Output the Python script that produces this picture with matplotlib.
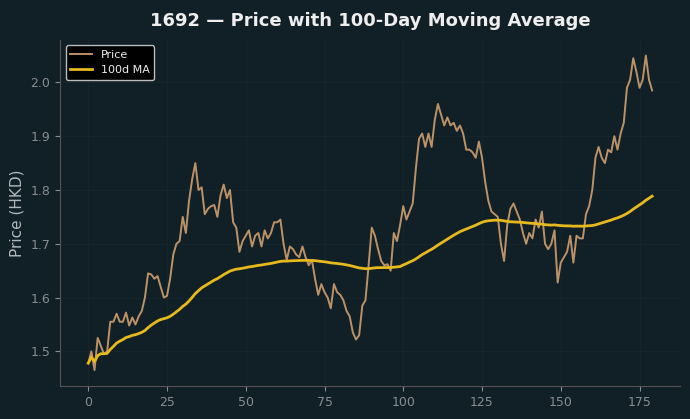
import numpy as np
import pandas as pd
import matplotlib
matplotlib.use("Agg")
import matplotlib.pyplot as plt

ticker = "1692"
ma_window = 100

# daily close, HKD
price = [
    1.478, 1.500, 1.465, 1.525, 1.510, 1.495, 1.500, 1.555, 1.555, 1.570,
    1.555, 1.555, 1.572, 1.548, 1.563, 1.550, 1.565, 1.575, 1.600, 1.645,
    1.643, 1.635, 1.640, 1.620, 1.600, 1.603, 1.635, 1.680, 1.700, 1.705,
    1.750, 1.720, 1.780, 1.820, 1.850, 1.800, 1.805, 1.755, 1.765, 1.770,
    1.772, 1.750, 1.790, 1.810, 1.785, 1.800, 1.740, 1.730, 1.685, 1.705,
    1.715, 1.725, 1.695, 1.715, 1.720, 1.695, 1.725, 1.710, 1.720, 1.740,
    1.740, 1.745, 1.700, 1.670, 1.695, 1.690, 1.680, 1.675, 1.695, 1.675,
    1.660, 1.670, 1.635, 1.605, 1.625, 1.610, 1.600, 1.580, 1.625, 1.610,
    1.605, 1.595, 1.575, 1.565, 1.535, 1.522, 1.530, 1.585, 1.595, 1.660,
    1.730, 1.715, 1.690, 1.668, 1.660, 1.662, 1.650, 1.720, 1.705, 1.735,
    1.770, 1.745, 1.760, 1.775, 1.840, 1.895, 1.905, 1.880, 1.905, 1.880,
    1.930, 1.960, 1.940, 1.920, 1.935, 1.920, 1.925, 1.910, 1.920, 1.905,
    1.875, 1.875, 1.870, 1.860, 1.890, 1.860, 1.815, 1.780, 1.760, 1.755,
    1.750, 1.700, 1.668, 1.735, 1.765, 1.775, 1.760, 1.745, 1.720, 1.700,
    1.720, 1.710, 1.745, 1.730, 1.760, 1.700, 1.690, 1.700, 1.725, 1.628,
    1.665, 1.675, 1.685, 1.715, 1.665, 1.715, 1.710, 1.710, 1.755, 1.770,
    1.800, 1.860, 1.880, 1.860, 1.850, 1.875, 1.870, 1.900, 1.875, 1.905,
    1.925, 1.990, 2.005, 2.045, 2.020, 1.990, 2.005, 2.050, 2.005, 1.985,
]

df = pd.DataFrame({"Close": price})
df["MA"] = df["Close"].rolling(ma_window, min_periods=1).mean()

bg = "#111f26"
plt.rcParams["font.family"] = "DejaVu Sans"

fig = plt.figure(figsize=(6.9, 4.19), dpi=100, facecolor=bg)
ax = fig.add_axes([0.087, 0.079, 0.899, 0.826], facecolor=bg)

ax.plot(df.index, df["Close"], color="#cf9f6f", lw=1.4, alpha=0.9, label="Price")
ax.plot(df.index, df["MA"], color="#e6b91e", lw=2.0, label="100d MA")

ax.set_title(f"{ticker} \u2014 Price with 100-Day Moving Average",
             color="#eeeeee", fontsize=13, fontweight="bold", pad=10)
ax.set_ylabel("Price (HKD)", color="#b0b8bc", fontsize=11)

ax.set_xticks([0, 25, 50, 75, 100, 125, 150, 175])
ax.set_yticks([1.5, 1.6, 1.7, 1.8, 1.9, 2.0])
ax.tick_params(colors="#888e92", labelsize=9)
ax.grid(True, color="#18272e", lw=0.6)

for side in ["top", "right"]:
    ax.spines[side].set_visible(False)
for side in ["left", "bottom"]:
    ax.spines[side].set_color("#555555")

leg = ax.legend(loc="upper left", fontsize=8, facecolor="black",
                edgecolor="#bbbbbb", labelcolor="#eeeeee", framealpha=1)

fig.savefig("out.png", dpi=100, facecolor=bg)
